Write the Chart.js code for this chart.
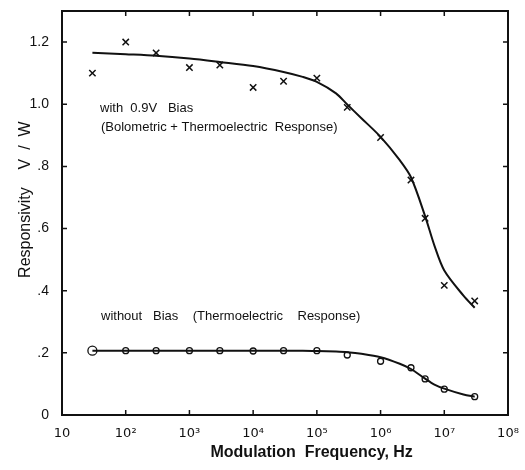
<!DOCTYPE html>
<html>
<head>
<meta charset="utf-8">
<script src="https://cdn.jsdelivr.net/npm/chart.js@4/dist/chart.umd.min.js"></script>
<style>
  body { margin: 0; background: #fff; }
  #wrap { width: 525px; height: 470px; }
</style>
</head>
<body>
<div id="wrap"><canvas id="respChart"></canvas></div>
<script>
// measured modulation frequencies (Hz)
const freqs = [30, 100, 300, 1e3, 3e3, 1e4, 3e4, 1e5, 3e5, 1e6, 3e6, 5e6, 1e7, 3e7];
const biasMeasured = [1.10, 1.20, 1.165, 1.118, 1.126, 1.054, 1.074, 1.084, 0.99, 0.893, 0.756, 0.633, 0.417, 0.367];
const noBiasMeasured = [0.207, 0.207, 0.207, 0.207, 0.207, 0.206, 0.207, 0.207, 0.193, 0.173, 0.152, 0.116, 0.083, 0.059];

// fitted curves
const fitFreqs = [30, 100, 300, 1e3, 3e3, 1e4, 3e4, 6e4, 1e5, 2e5, 3e5, 5e5, 1e6, 2e6, 3e6, 5e6, 7e6, 1e7, 2e7, 3e7];
const biasFit = [1.166, 1.161, 1.156, 1.147, 1.136, 1.123, 1.104, 1.088, 1.072, 1.035, 0.999, 0.955, 0.895, 0.82, 0.765, 0.64, 0.545, 0.465, 0.384, 0.345];
const noBiasFit = [0.207, 0.207, 0.207, 0.207, 0.207, 0.207, 0.207, 0.207, 0.206, 0.204, 0.202, 0.197, 0.186, 0.165, 0.148, 0.117, 0.098, 0.085, 0.066, 0.059];

const xTicks = [10, 1e2, 1e3, 1e4, 1e5, 1e6, 1e7, 1e8];
const xTickLabels = ['10', '10²', '10³', '10⁴', '10⁵', '10⁶', '10⁷', '10⁸'];
const yTicks = [0, 0.2, 0.4, 0.6, 0.8, 1.0, 1.2];
const yTickLabels = ['0', '.2', '.4', '.6', '.8', '1.0', '1.2'];

const pts = (xs, ys) => xs.map((f, i) => ({ x: f, y: ys[i] }));

// box around the plot with inward ticks on all four sides, plus the curve labels
const frame = {
    id: 'frame',
    afterDatasetsDraw(chart) {
        const { ctx, chartArea: a, scales: { x, y } } = chart;
        ctx.save();
        ctx.strokeStyle = '#111';
        ctx.lineWidth = 2;
        ctx.strokeRect(a.left, a.top, a.right - a.left, a.bottom - a.top);
        ctx.lineWidth = 1.5;
        ctx.beginPath();
        xTicks.forEach((v) => {
            const px = x.getPixelForValue(v);
            ctx.moveTo(px, a.bottom); ctx.lineTo(px, a.bottom - 5);
            ctx.moveTo(px, a.top); ctx.lineTo(px, a.top + 5);
        });
        yTicks.forEach((v) => {
            const py = y.getPixelForValue(v);
            ctx.moveTo(a.left, py); ctx.lineTo(a.left + 5, py);
            ctx.moveTo(a.right, py); ctx.lineTo(a.right - 5, py);
        });
        ctx.stroke();

        ctx.fillStyle = '#111';
        ctx.font = '13px "Liberation Sans"';
        ctx.textBaseline = 'middle';
        ctx.fillText('with  0.9V   Bias', 100, 108);
        ctx.fillText('(Bolometric + Thermoelectric  Response)', 101, 127);
        ctx.fillText('without   Bias    (Thermoelectric    Response)', 101, 316);
        ctx.restore();
    }
};

const ctx = document.getElementById('respChart').getContext('2d');
new Chart(ctx, {
    type: 'scatter',
    data: {
        datasets: [
            {
                data: pts(fitFreqs, biasFit),
                showLine: true,
                borderColor: '#111',
                borderWidth: 2,
                pointRadius: 0,
                tension: 0.3
            },
            {
                data: pts(freqs, biasMeasured),
                pointStyle: 'crossRot',
                pointRadius: 4.5,
                borderColor: '#111',
                borderWidth: 1.5
            },
            {
                data: pts(fitFreqs, noBiasFit),
                showLine: true,
                borderColor: '#111',
                borderWidth: 2,
                pointRadius: 0,
                tension: 0.3
            },
            {
                data: pts(freqs, noBiasMeasured),
                pointStyle: 'circle',
                pointRadius: [4.5, 3, 3, 3, 3, 3, 3, 3, 3, 3, 3, 3, 3, 3],
                backgroundColor: '#fff',
                borderColor: '#111',
                borderWidth: 1.3
            }
        ]
    },
    options: {
        responsive: true,
        maintainAspectRatio: false,
        animation: false,
        layout: { padding: { top: 11, right: 17, left: 0, bottom: 0 } },
        plugins: {
            legend: { display: false },
            tooltip: { enabled: false }
        },
        scales: {
            x: {
                type: 'logarithmic',
                min: 10,
                max: 1e8,
                afterBuildTicks: (s) => { s.ticks = xTicks.map((v) => ({ value: v })); },
                afterFit: (s) => { s.height = 55; s.paddingLeft = 0; s.paddingRight = 0; },
                grid: { display: false, drawTicks: false },
                border: { display: false },
                ticks: {
                    color: '#111',
                    padding: 11,
                    maxRotation: 0,
                    autoSkip: false,
                    font: { family: 'DejaVu Sans', size: 13 },
                    callback: (v) => xTickLabels[xTicks.indexOf(v)]
                },
                title: {
                    display: true,
                    text: '            Modulation  Frequency, Hz',
                    color: '#111',
                    font: { family: 'Liberation Sans', size: 16, weight: 'bold' },
                    padding: { top: 0, bottom: 8 }
                }
            },
            y: {
                min: 0,
                max: 1.3,
                afterBuildTicks: (s) => { s.ticks = yTicks.map((v) => ({ value: v })); },
                afterFit: (s) => { s.width = 62; s.paddingTop = 0; s.paddingBottom = 0; },
                grid: { display: false, drawTicks: false },
                border: { display: false },
                ticks: {
                    color: '#111',
                    padding: 13,
                    font: { family: 'Liberation Sans', size: 14 },
                    callback: (v) => yTickLabels[yTicks.indexOf(v)]
                },
                title: {
                    display: true,
                    text: '      Responsivity    V  /  W',
                    color: '#111',
                    font: { family: 'Liberation Sans', size: 16 },
                    padding: { top: 16, bottom: 0 }
                }
            }
        }
    },
    plugins: [frame]
});
</script>
</body>
</html>
